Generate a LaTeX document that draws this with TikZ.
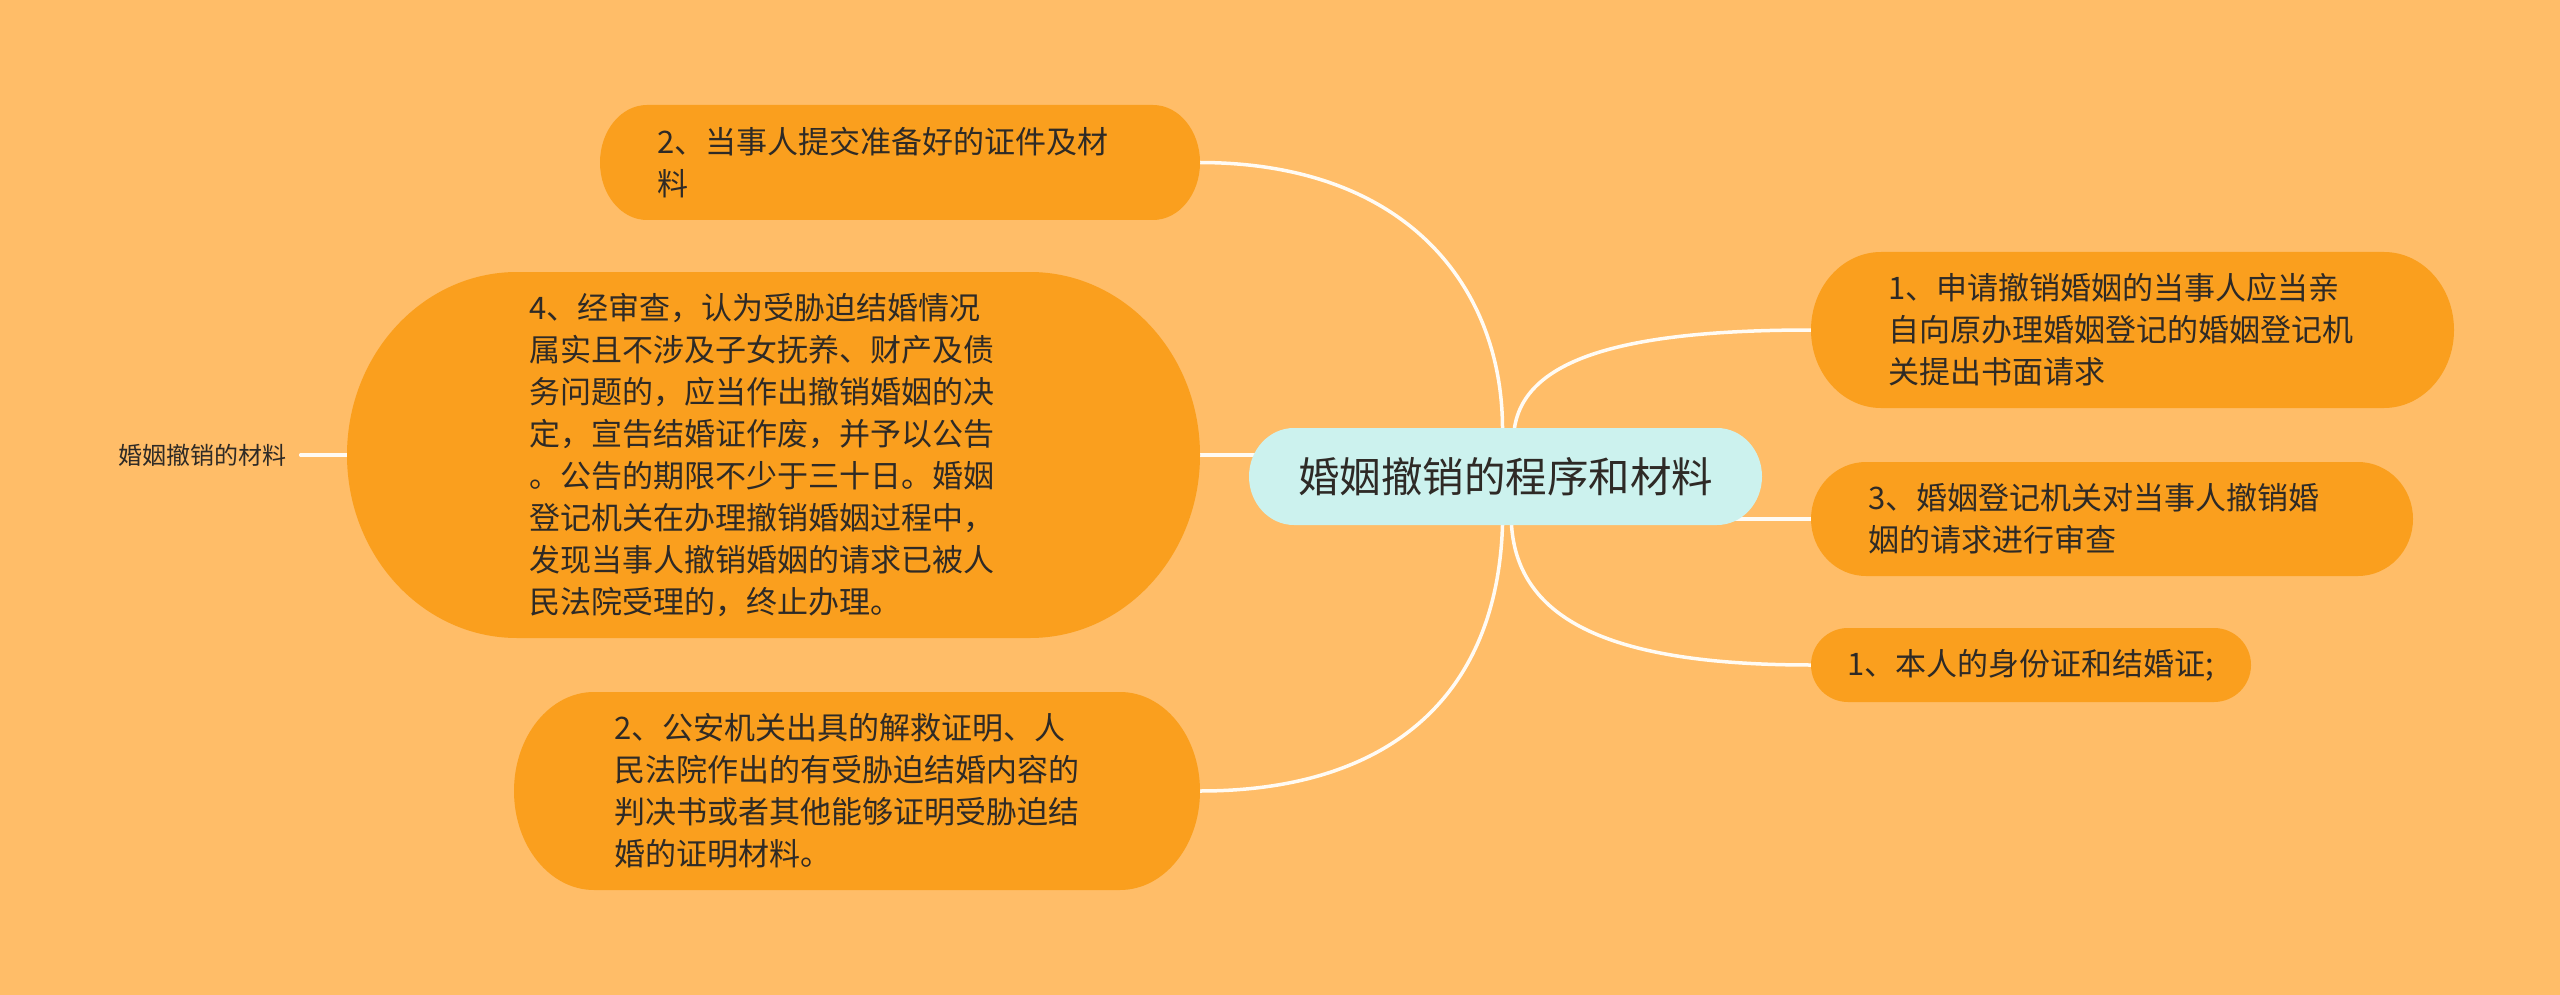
\documentclass[tikz,border=0pt]{standalone}
\usepackage{fontspec}
\setmainfont{Noto Sans CJK SC}
\usetikzlibrary{calc}
\definecolor{bgc}{HTML}{FFBD68}
\definecolor{nodec}{HTML}{FA9F1E}
\definecolor{cenc}{HTML}{CCF2EE}
\definecolor{txtc}{HTML}{2E2A26}
\definecolor{linec}{HTML}{FFFBF4}
\pgfdeclarelayer{bglayer}
\pgfdeclarelayer{edgelayer}
\pgfsetlayers{bglayer,edgelayer,main}
\tikzset{
  pillshape/.style 2 args={path picture={
    \fill[#1] let \p1=(path picture bounding box.south west), \p2=(path picture bounding box.north east) in
      (\x1+#2,\y1) -- (\x2-#2,\y1)
      arc[start angle=-90,end angle=90,x radius=#2,y radius={(\y2-\y1)/2}]
      -- (\x1+#2,\y2)
      arc[start angle=90,end angle=270,x radius=#2,y radius={(\y2-\y1)/2}] -- cycle;
  }},
  leaf/.style={inner sep=0pt, text=txtc, font=\fontsize{31}{42}\selectfont, align=left},
  hub/.style={inner sep=0pt, text=txtc, font=\fontsize{41.5}{50}\selectfont, align=center},
  tag/.style={inner ysep=4pt, inner xsep=14pt, text=txtc, font=\fontsize{24}{30}\selectfont},
  edge/.style={draw=linec, line width=3.5pt, line cap=round},
}
\begin{document}
\begin{tikzpicture}[x=1pt,y=-1pt]
\begin{pgfonlayer}{bglayer}
\fill[bgc] (0,0) rectangle (2560,995);
\end{pgfonlayer}
\useasboundingbox (0,0) rectangle (2560,995);

\node[hub, minimum width=513pt, minimum height=97pt, pillshape={cenc}{45pt}] (c) at (1505.5,476.5) {婚姻撤销的程序和材料};

\node[leaf, minimum width=600pt, minimum height=115pt, text width=486pt, pillshape={nodec}{47pt}] (n1) at (900,162.5)
  {2、当事人提交准备好的证件及材\\料};

\node[leaf, minimum width=853pt, minimum height=366pt, text width=489pt, pillshape={nodec}{170pt}] (big) at (773.5,455)
  {4、经审查，认为受胁迫结婚情况\\属实且不涉及子女抚养、财产及债\\务问题的，应当作出撤销婚姻的决\\定，宣告结婚证作废，并予以公告\\。公告的期限不少于三十日。婚姻\\登记机关在办理撤销婚姻过程中，\\发现当事人撤销婚姻的请求已被人\\民法院受理的，终止办理。};

\node[leaf, minimum width=686pt, minimum height=198pt, text width=486pt, pillshape={nodec}{80pt}] (l2) at (857,791)
  {2、公安机关出具的解救证明、人\\民法院作出的有受胁迫结婚内容的\\判决书或者其他能够证明受胁迫结\\婚的证明材料。};

\node[leaf, minimum width=643pt, minimum height=156pt, text width=489pt, pillshape={nodec}{70pt}] (r1) at (2132.5,330)
  {1、申请撤销婚姻的当事人应当亲\\自向原办理婚姻登记的婚姻登记机\\关提出书面请求};

\node[leaf, minimum width=602pt, minimum height=114pt, text width=488pt, pillshape={nodec}{55pt}] (r3) at (2112,519)
  {3、婚姻登记机关对当事人撤销婚\\姻的请求进行审查};

\node[leaf, minimum width=440pt, minimum height=74pt, text width=368pt, pillshape={nodec}{37pt}] (r4) at (2031,665)
  {1、本人的身份证和结婚证;};

\node[tag] (lab) at (202.5,455) {婚姻撤销的材料};

\begin{pgfonlayer}{edgelayer}
\draw[edge] ([xshift=-3pt]c.north) .. controls (1502,290) and (1410,163) .. (n1.east);
\draw[edge] ([xshift=9pt]c.north) .. controls (1525,360) and (1620,330) .. (r1.west);
\draw[edge] (c.center |- r3.west) -- (r3.west);
\draw[edge] ([xshift=6pt]c.south) .. controls (1518,620) and (1610,665) .. (r4.west);
\draw[edge] ([xshift=-3pt]c.south) .. controls (1497,700) and (1385,791) .. (l2.east);
\draw[edge] (c.center |- big.east) -- (big.east);
\draw[edge] (big.west) -- (lab.east);
\end{pgfonlayer}
\end{tikzpicture}
\end{document}
